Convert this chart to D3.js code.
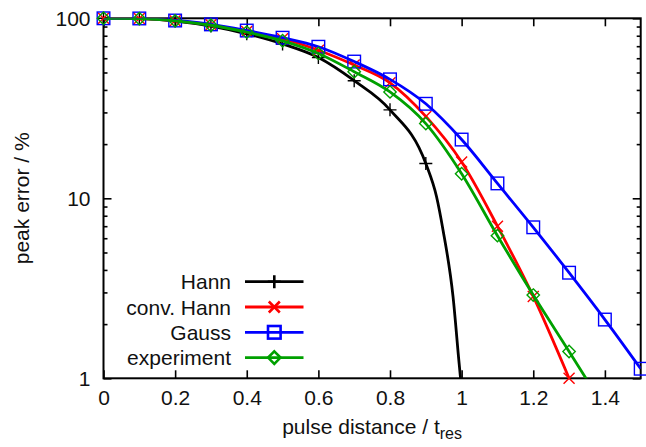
<!DOCTYPE html>
<html>
<head>
<meta charset="utf-8">
<script src="https://cdn.jsdelivr.net/npm/d3@7"></script>
<style>
  html, body { margin: 0; padding: 0; background: #fff; }
  svg text { font-family: "Liberation Sans", Arial, Helvetica, sans-serif; }
</style>
</head>
<body>
<svg id="chart" width="646" height="447"></svg>
<script>
// Pulse distance (in units of t_res) at which each window's peak error was evaluated
const distances = [0, 0.1, 0.2, 0.3, 0.4, 0.5, 0.6, 0.7, 0.8, 0.9, 1.0, 1.1, 1.2, 1.3, 1.4, 1.5];

// Peak error in percent, one value per distance
const hann       = [100, 99.5, 96.5, 90.5, 82, 72, 60.5, 45, 31, 15.6];
const convHann   = [100, 99.7, 97, 92, 84.5, 77, 66.5, 55, 43.8, 28.5, 15.9, 7.0, 2.85, 1.0];
const gauss      = [100, 99.8, 97.2, 92.5, 85.5, 78, 69.5, 57.5, 45.8, 33.5, 21.2, 12.1, 6.9, 3.86, 2.12, 1.13];
const experiment = [100, 99.6, 96.8, 91.5, 83.8, 75, 63.8, 50.5, 39, 26, 13.7, 6.2, 2.9, 1.41];

// Extra curve samples between the marked distances (curve only, no markers)
const hannTailX = [0.93, 0.948, 0.976, 0.993, 0.997];
const hannTailY = [10.2, 6.67, 2.84, 1.21, 1.0];
const experimentTailX = [1.4];
const experimentTailY = [0.68];

// Axis ticks
const xTicks = [0, 0.2, 0.4, 0.6, 0.8, 1.0, 1.2, 1.4];
const xTickLabels = ["0", "0.2", "0.4", "0.6", "0.8", "1", "1.2", "1.4"];
const yTicks = [1, 10, 100];
const yTickLabels = ["1", "10", "100"];
const yMinorTicks = [2, 3, 4, 5, 6, 7, 8, 9, 20, 30, 40, 50, 60, 70, 80, 90];

const legendNames = ["Hann", "conv. Hann", "Gauss", "experiment"];

const svg = d3.select("#chart");
const plot = { left: 103.5, right: 640.7, top: 18.3, bottom: 378.3 };

const x = d3.scaleLinear().domain([0, 1.5]).range([plot.left, plot.right]);
const y = d3.scaleLog().domain([1, 100]).range([plot.bottom, plot.top]);

const FONT = 21;
const MAJOR = 8, MINOR = 4;

svg.append("defs").append("clipPath").attr("id", "plotClip")
  .append("rect")
  .attr("x", plot.left).attr("y", plot.top)
  .attr("width", plot.right - plot.left).attr("height", plot.bottom - plot.top);

function styleAxis(g, showText) {
  g.select(".domain").remove();
  g.selectAll(".tick line").attr("stroke", "#000").attr("stroke-width", 1.6);
  g.selectAll(".tick text")
    .attr("font-size", FONT)
    .attr("fill", "#111")
    .style("display", showText ? null : "none");
}

// Bottom axis with labels, ticks pointing inward
svg.append("g")
  .attr("transform", `translate(0,${plot.bottom})`)
  .call(d3.axisBottom(x).tickValues(xTicks).tickSize(-MAJOR).tickPadding(12)
    .tickFormat((d, i) => xTickLabels[i]))
  .call(g => styleAxis(g, true))
  .call(g => g.selectAll(".tick text").attr("dy", "0.71em"));

// Top mirror ticks
svg.append("g")
  .attr("transform", `translate(0,${plot.top})`)
  .call(d3.axisTop(x).tickValues(xTicks).tickSize(-MAJOR))
  .call(g => styleAxis(g, false));

// Left axis, major with labels
svg.append("g")
  .attr("transform", `translate(${plot.left},0)`)
  .call(d3.axisLeft(y).tickValues(yTicks).tickSize(-MAJOR).tickPadding(13)
    .tickFormat((d, i) => yTickLabels[i]))
  .call(g => styleAxis(g, true));

// Left minor ticks
svg.append("g")
  .attr("transform", `translate(${plot.left},0)`)
  .call(d3.axisLeft(y).tickValues(yMinorTicks).tickSize(-MINOR).tickFormat(""))
  .call(g => styleAxis(g, false));

// Right mirror ticks
svg.append("g")
  .attr("transform", `translate(${plot.right},0)`)
  .call(d3.axisRight(y).tickValues(yTicks).tickSize(-MAJOR).tickFormat(""))
  .call(g => styleAxis(g, false));
svg.append("g")
  .attr("transform", `translate(${plot.right},0)`)
  .call(d3.axisRight(y).tickValues(yMinorTicks).tickSize(-MINOR).tickFormat(""))
  .call(g => styleAxis(g, false));

// Plot frame
svg.append("rect")
  .attr("x", plot.left).attr("y", plot.top)
  .attr("width", plot.right - plot.left).attr("height", plot.bottom - plot.top)
  .attr("fill", "none").attr("stroke", "#000").attr("stroke-width", 2);

// Axis titles
svg.append("text")
  .attr("transform", `translate(29,${(plot.top + plot.bottom) / 2}) rotate(-90)`)
  .attr("text-anchor", "middle")
  .attr("font-size", FONT).attr("fill", "#111")
  .text("peak error / %");

const xTitle = svg.append("text")
  .attr("x", (plot.left + plot.right) / 2).attr("y", 434)
  .attr("text-anchor", "middle")
  .attr("font-size", FONT).attr("fill", "#111");
xTitle.append("tspan").text("pulse distance / t");
xTitle.append("tspan").attr("font-size", 16).attr("dy", 5).text("res");

// Marker shapes
function drawMarker(g, kind, cx, cy, color, sw) {
  if (kind === "plus") {
    const r = 6.5;
    g.append("path").attr("d", `M${cx - r},${cy}H${cx + r}M${cx},${cy - r}V${cy + r}`)
      .attr("stroke", color).attr("stroke-width", sw).attr("fill", "none");
  } else if (kind === "cross") {
    const r = 5.5;
    g.append("path").attr("d", `M${cx - r},${cy - r}L${cx + r},${cy + r}M${cx - r},${cy + r}L${cx + r},${cy - r}`)
      .attr("stroke", color).attr("stroke-width", sw).attr("fill", "none");
  } else if (kind === "square") {
    const r = 6.3;
    g.append("rect").attr("x", cx - r).attr("y", cy - r).attr("width", 2 * r).attr("height", 2 * r)
      .attr("stroke", color).attr("stroke-width", sw).attr("fill", "none");
  } else if (kind === "diamond") {
    const r = 6.2;
    g.append("path").attr("d", `M${cx},${cy - r}L${cx + r},${cy}L${cx},${cy + r}L${cx - r},${cy}Z`)
      .attr("stroke", color).attr("stroke-width", sw).attr("fill", "none");
  }
}

const series = [
  { name: legendNames[0], values: hann, tailX: hannTailX, tailY: hannTailY, color: "#000000", marker: "plus" },
  { name: legendNames[1], values: convHann, tailX: [], tailY: [], color: "#ff0000", marker: "cross" },
  { name: legendNames[2], values: gauss, tailX: [], tailY: [], color: "#0000ff", marker: "square" },
  { name: legendNames[3], values: experiment, tailX: experimentTailX, tailY: experimentTailY, color: "#00a000", marker: "diamond" }
];

const line = d3.line()
  .x(d => x(d[0]))
  .y(d => y(d[1]))
  .curve(d3.curveMonotoneX);

series.forEach(s => {
  const pts = s.values.map((v, i) => [distances[i], v])
    .concat(s.tailX.map((xv, i) => [xv, s.tailY[i]]));
  const g = svg.append("g");
  g.append("path")
    .datum(pts)
    .attr("clip-path", "url(#plotClip)")
    .attr("d", line)
    .attr("fill", "none")
    .attr("stroke", s.color)
    .attr("stroke-width", 2.8)
    .attr("stroke-linejoin", "round");
  s.values.forEach((v, i) => {
    if (v >= 1) drawMarker(g, s.marker, x(distances[i]), y(v), s.color, 1.4);
  });
});

// Legend
const legend = svg.append("g");
series.forEach((s, i) => {
  const ly = 281.7 + i * 25.3;
  legend.append("text")
    .attr("x", 231).attr("y", ly).attr("dy", "0.36em")
    .attr("text-anchor", "end")
    .attr("font-size", FONT).attr("fill", "#111")
    .text(s.name);
  legend.append("line")
    .attr("x1", 245).attr("x2", 303.5).attr("y1", ly).attr("y2", ly)
    .attr("stroke", s.color).attr("stroke-width", 2.8);
  drawMarker(legend, s.marker, 274.3, ly, s.color, 2.6);
});
</script>
</body>
</html>
